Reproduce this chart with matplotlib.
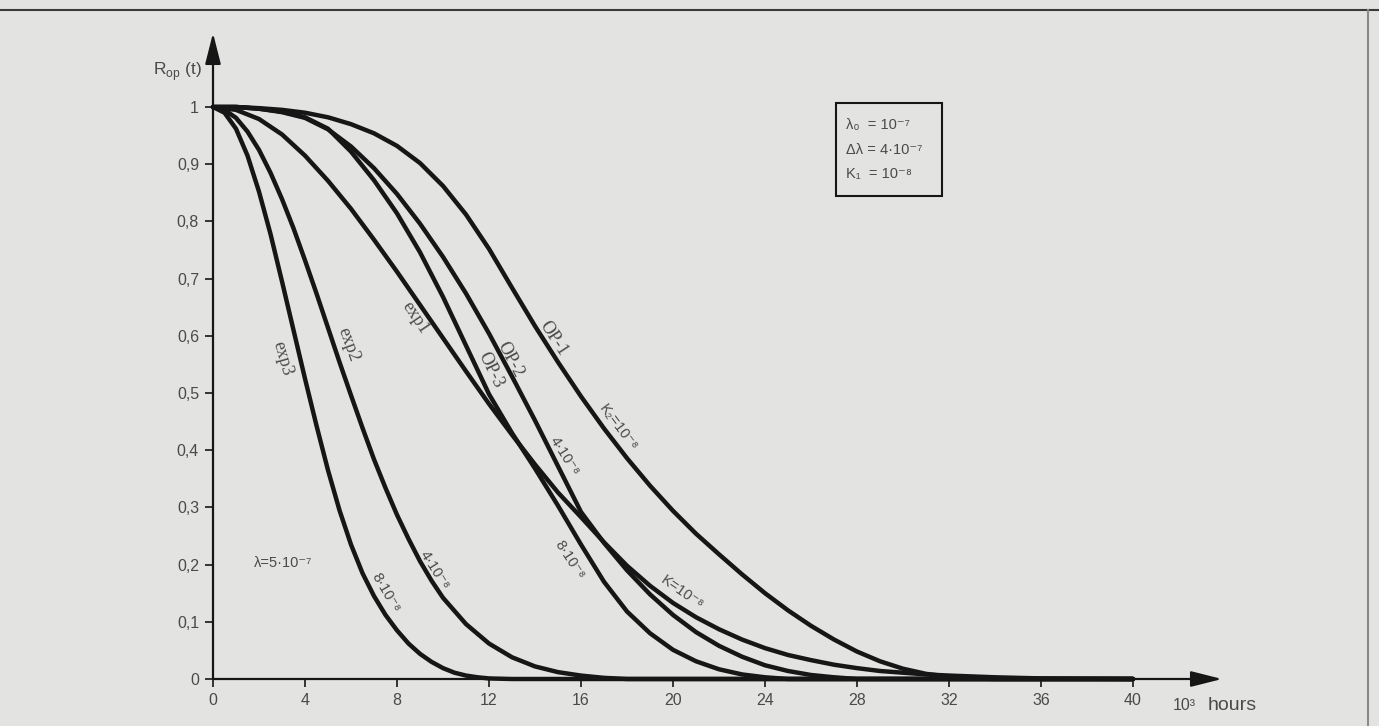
import matplotlib
matplotlib.use("Agg")
import matplotlib.pyplot as plt
from matplotlib.lines import Line2D
from matplotlib.patches import Rectangle

# time axis in 10^3 hours, reliability R_op(t)
exp3_t = [0, 0.5, 1, 1.5, 2, 2.5, 3, 3.5, 4, 4.5, 5, 5.5, 6, 6.5, 7, 7.5, 8, 8.5,
          9, 9.5, 10, 10.5, 11, 11.5, 12, 13, 40]
exp3_r = [1.0, 0.99, 0.962, 0.915, 0.852, 0.778, 0.695, 0.61, 0.525, 0.443, 0.365,
          0.295, 0.235, 0.185, 0.145, 0.112, 0.085, 0.062, 0.044, 0.03, 0.019,
          0.011, 0.006, 0.003, 0.001, 0.0, 0.0]

exp2_t = [0, 0.5, 1, 1.5, 2, 2.5, 3, 3.5, 4, 4.5, 5, 5.5, 6, 6.5, 7, 7.5, 8, 8.5,
          9, 9.5, 10, 11, 12, 13, 14, 15, 16, 17, 18, 40]
exp2_r = [1.0, 0.995, 0.981, 0.957, 0.925, 0.885, 0.839, 0.788, 0.732, 0.674, 0.614,
          0.554, 0.496, 0.439, 0.384, 0.334, 0.287, 0.245, 0.206, 0.172, 0.142,
          0.096, 0.062, 0.038, 0.022, 0.012, 0.006, 0.002, 0.0, 0.0]

exp1_t = list(range(33)) + [34, 36, 40]
exp1_r = [1.0, 0.995, 0.979, 0.952, 0.915, 0.871, 0.822, 0.768, 0.712, 0.654, 0.596,
          0.538, 0.481, 0.427, 0.375, 0.326, 0.283, 0.239, 0.198, 0.163, 0.133,
          0.108, 0.087, 0.069, 0.054, 0.042, 0.033, 0.025, 0.019, 0.014, 0.011,
          0.008, 0.006, 0.003, 0.001, 0.0]

op1_t = list(range(35)) + [40]
op1_r = [1.0, 1.0, 0.998, 0.995, 0.99, 0.982, 0.97, 0.954, 0.932, 0.902, 0.862,
         0.812, 0.752, 0.684, 0.617, 0.554, 0.494, 0.438, 0.386, 0.338, 0.294,
         0.254, 0.218, 0.183, 0.15, 0.12, 0.093, 0.069, 0.048, 0.031, 0.018,
         0.009, 0.004, 0.001, 0.0, 0.0]

op2_t = list(range(29)) + [40]
op2_r = [1.0, 1.0, 0.997, 0.991, 0.981, 0.961, 0.931, 0.893, 0.848, 0.796, 0.738,
         0.674, 0.604, 0.529, 0.452, 0.372, 0.292, 0.238, 0.19, 0.148, 0.112,
         0.082, 0.058, 0.039, 0.024, 0.014, 0.007, 0.003, 0.0, 0.0]

op3_t = list(range(26)) + [40]
op3_r = [1.0, 1.0, 0.997, 0.992, 0.982, 0.962, 0.922, 0.872, 0.814, 0.746, 0.668,
         0.583, 0.498, 0.43, 0.368, 0.303, 0.235, 0.17, 0.118, 0.08, 0.051,
         0.031, 0.017, 0.008, 0.003, 0.0, 0.0]

x_ticks = [0, 4, 8, 12, 16, 20, 24, 28, 32, 36, 40]
y_ticks = [0, 0.1, 0.2, 0.3, 0.4, 0.5, 0.6, 0.7, 0.8, 0.9, 1.0]
y_ticklabels = ["0", "0,1", "0,2", "0,3", "0,4", "0,5", "0,6", "0,7", "0,8", "0,9", "1"]

bg = "#e3e3e1"
ink = "#161616"
grey = "#4a4a4a"
sans = ["Liberation Sans", "DejaVu Sans"]
serif = ["Liberation Serif", "DejaVu Serif"]

plt.rcParams["font.family"] = sans

W, H = 1379, 726
fig = plt.figure(figsize=(W / 100, H / 100), dpi=100, facecolor=bg)
# axes: x=0 at px 213, 23 px per unit; y=0 at py 679, 572 px per unit
ax = fig.add_axes([213 / W, 47 / H, 1022 / W, 659 / H])
ax.set_xlim(0, 1022 / 23)
ax.set_ylim(0, 659 / 572)
ax.patch.set_alpha(0)
for s in ax.spines.values():
    s.set_visible(False)

ax.set_xticks(x_ticks)
ax.set_yticks(y_ticks)
ax.set_yticklabels(y_ticklabels)
ax.tick_params(direction="out", length=6, width=1.2, color=ink,
               labelcolor=grey, labelsize=11.5, pad=4)

# curves
for t, r in [(exp3_t, exp3_r), (exp2_t, exp2_r), (exp1_t, exp1_r),
             (op1_t, op1_r), (op2_t, op2_r), (op3_t, op3_r)]:
    ax.plot(t, r, color=ink, lw=3.2, clip_on=False,
            solid_joinstyle="round", solid_capstyle="round", zorder=3)

# axis arrows
arrow = dict(arrowstyle="-|>,head_length=0.95,head_width=0.24", mutation_scale=20,
             lw=1.6, color=ink, shrinkA=0, shrinkB=0)
ax.annotate("", xy=(0, 646 / 572), xytext=(0, 0), arrowprops=arrow,
            annotation_clip=False, zorder=4)
ax.annotate("", xy=(1009 / 23, 0), xytext=(0, 0), arrowprops=arrow,
            annotation_clip=False, zorder=4)

# axis titles
ax.text(-1.55, 1.062, r"R$_{\mathregular{op}}$ (t)", fontsize=12.5, color=grey,
        ha="center", va="center")
ax.text(41.75, -0.046, "10³", fontsize=11.5, color=grey, ha="left", va="center",
        family=sans)
ax.text(43.25, -0.046, "hours", fontsize=14, color=grey, ha="left", va="center")

# curve names
names = [
    ("exp3", 3.0, 0.56, -74),
    ("exp2", 5.9, 0.584, -70),
    ("exp1", 8.8, 0.632, -56),
    ("OP-3", 12.05, 0.54, -64),
    ("OP-2", 12.9, 0.558, -62),
    ("OP-1", 14.8, 0.596, -57),
]
for txt, x, y, rot in names:
    ax.text(x, y, txt, fontsize=13, color=grey, family=serif,
            rotation=rot, rotation_mode="anchor", ha="center", va="center")

params = [
    ("K₂=10⁻⁸", 17.6, 0.44, -53),
    ("4·10⁻⁸", 15.3, 0.39, -58),
    ("8·10⁻⁸", 15.5, 0.208, -57),
    ("K=10⁻⁸", 20.4, 0.15, -35),
    ("8·10⁻⁸", 7.5, 0.15, -60),
    ("4·10⁻⁸", 9.65, 0.19, -58),
]
for txt, x, y, rot in params:
    ax.text(x, y, txt, fontsize=10.5, color=grey, family=sans,
            rotation=rot, rotation_mode="anchor", ha="center", va="center")

ax.text(3.05, 0.203, "λ=5·10⁻⁷", fontsize=10.5, color=grey, family=sans,
        ha="center", va="center")

# parameter box
ax.add_patch(Rectangle((27.1, 0.844), 4.6, 0.163, fill=False, lw=1.5,
                       edgecolor=ink, clip_on=False))
box_lines = ["λ₀  = 10⁻⁷", "Δλ = 4·10⁻⁷", "K₁  = 10⁻⁸"]
box_y = [0.969, 0.925, 0.883]
for txt, y in zip(box_lines, box_y):
    ax.text(27.5, y, txt, fontsize=10.5, color=grey, family=sans,
            ha="left", va="center")

# page frame of the scan
fig.add_artist(Line2D([0, 1], [1 - 10 / H, 1 - 10 / H], transform=fig.transFigure,
                      color="#3a3a3a", lw=1.5))
fig.add_artist(Line2D([1368 / W, 1368 / W], [0, 1 - 10 / H], transform=fig.transFigure,
                      color="#8a8a8a", lw=1.5))

fig.savefig("out.png", dpi=100, facecolor=bg)
